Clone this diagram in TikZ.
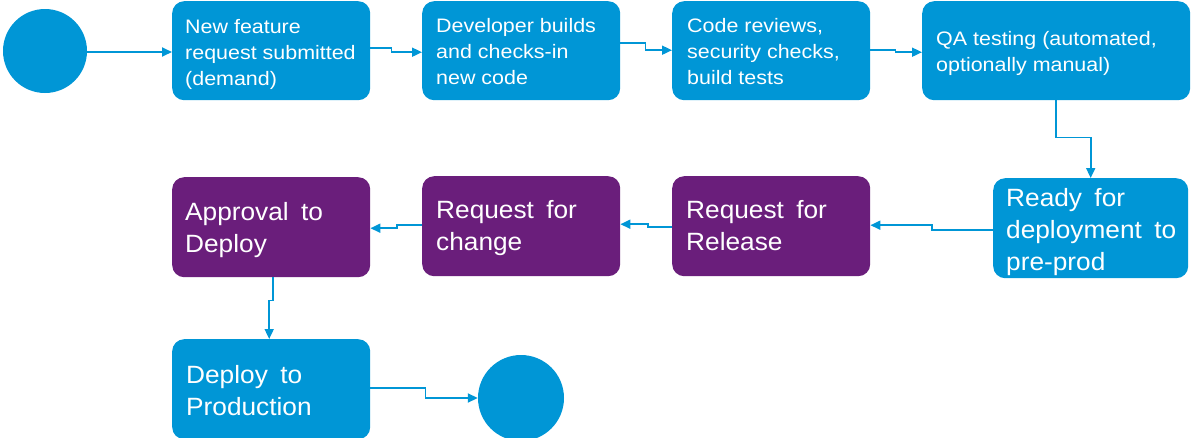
\documentclass[tikz,border=0pt]{standalone}
\usepackage{fontspec}
\usetikzlibrary{arrows.meta}
\newfontfamily\smallfnt[FakeStretch=1.1]{Liberation Sans}
\newfontfamily\bigfnt[FakeStretch=1.05,WordSpace=1.7]{Liberation Sans}
\definecolor{flowblue}{RGB}{0,150,214}
\definecolor{flowpurple}{RGB}{106,30,123}
\tikzset{
  bluebox/.style={rectangle, rounded corners=12pt, fill=flowblue, draw=none, anchor=north west, minimum height=#1, inner sep=0pt},
  purplebox/.style={rectangle, rounded corners=12pt, fill=flowpurple, draw=none, anchor=north west, minimum height=#1, inner sep=0pt},
  endpoint/.style={circle, fill=flowblue, draw=none, inner sep=0pt},
  smalltxt/.style={anchor=base west, inner sep=0pt, text=white},
  bigtxt/.style={anchor=base west, inner sep=0pt, text=white},
  conn/.style={draw=flowblue, line width=1.8pt, -{Triangle[length=10pt,width=9pt]}},
}
\newcommand{\smalltext}[1]{\parbox[t]{250pt}{\raggedright\smallfnt\fontsize{19.5}{26}\selectfont #1}}
\newcommand{\bigtext}[1]{\parbox[t]{250pt}{\raggedright\bigfnt\fontsize{25}{32}\selectfont #1}}
\begin{document}
\begin{tikzpicture}[x=1pt,y=-1pt]
\useasboundingbox (0,0) rectangle (1200,437);
% nodes
\node[endpoint, minimum size=84pt] (start) at (45,51) {};
\node[bluebox=99pt, minimum width=198pt] (b1) at (172,1) {};
\node[bluebox=99pt, minimum width=198pt] (b2) at (422,1) {};
\node[bluebox=99pt, minimum width=198pt] (b3) at (672,1) {};
\node[bluebox=99pt, minimum width=268pt] (b4) at (922,1) {};
\node[bluebox=100pt, minimum width=195pt] (rdy) at (993,178) {};
\node[purplebox=100pt, minimum width=198pt] (rel) at (672,176) {};
\node[purplebox=100pt, minimum width=198pt] (chg) at (422,176) {};
\node[purplebox=100pt, minimum width=198pt] (apr) at (172,177) {};
\node[bluebox=100pt, minimum width=198pt] (dep) at (172,339) {};
\node[endpoint, minimum size=86pt] (stop) at (521,398) {};
% texts
\node[smalltxt] (t1) at (185,33) {\smalltext{New feature\\request submitted\\(demand)}};
\node[smalltxt] (t2) at (436,32) {\smalltext{Developer builds\\and checks-in\\new code}};
\node[smalltxt] (t3) at (687,32) {\smalltext{Code reviews,\\security checks,\\build tests}};
\node[smalltxt] (t4) at (936,45) {\smalltext{QA testing (automated,\\optionally manual)}};
\node[bigtxt] (t5) at (1006,206) {\bigtext{Ready for\\deployment to\\pre-prod}};
\node[bigtxt] (t6) at (686,218) {\bigtext{Request for\\Release}};
\node[bigtxt] (t7) at (436,218) {\bigtext{Request for\\change}};
\node[bigtxt] (t8) at (185,220) {\bigtext{Approval to\\Deploy}};
\node[bigtxt] (t9) at (186,383) {\bigtext{Deploy to\\Production}};
% connectors
\draw[conn] (start.east |- 0,52) -- (b1.west |- 0,52);
\draw[conn] ([yshift=2.5pt]b1.east) -- ++(21,0) |- ([yshift=-1.5pt]b2.west);
\draw[conn] ([yshift=7.5pt]b2.east) -- ++(25,0) |- ([yshift=0.5pt]b3.west);
\draw[conn] ([yshift=0.5pt]b3.east) -- ++(25,0) |- ([yshift=-1.5pt]b4.west);
\draw[conn] (b4.south) -- ++(0,37) -| (rdy.north);
\draw[conn] ([yshift=-1.5pt]rdy.west) -- ++(-61,0) |- ([yshift=1pt]rel.east);
\draw[conn] ([yshift=-1pt]rel.west) -- ++(-24,0) |- ([yshift=2pt]chg.east);
\draw[conn] ([yshift=1pt]chg.west) -- ++(-25,0) |- ([yshift=-1pt]apr.east);
\draw[conn] ([xshift=1.5pt]apr.south) -- ++(0,23) -| ([xshift=-2pt]dep.north);
\draw[conn] ([yshift=1pt]dep.east) -- ++(55,0) |- (stop.west);
\end{tikzpicture}
\end{document}
